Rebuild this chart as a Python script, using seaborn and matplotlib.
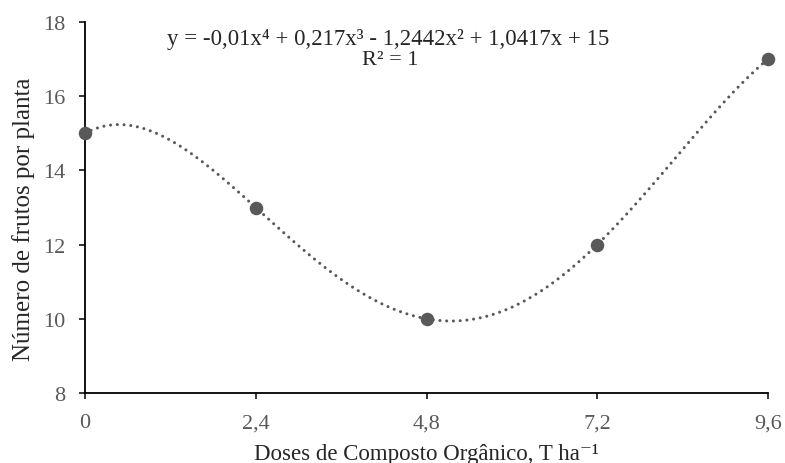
import numpy as np
import pandas as pd
from matplotlib import pyplot as plt
import seaborn as sns

# doses (T/ha) and fruit count per plant
doses = [0, 2.4, 4.8, 7.2, 9.6]
frutos = [15, 13, 10, 12, 17]
x_ticks = [0, 2.4, 4.8, 7.2, 9.6]
x_tick_labels = ["0", "2,4", "4,8", "7,2", "9,6"]
y_ticks = [8, 10, 12, 14, 16, 18]

EQUATION = "y = -0,01x\u2074 + 0,217x\u00b3 - 1,2442x\u00b2 + 1,0417x + 15"
R2_TEXT = "R\u00b2 = 1"
GRAY = "#595959"


def main():
    data = pd.DataFrame({"dose": doses, "frutos": frutos})

    sns.set_style("ticks")
    plt.rcParams["font.family"] = ["Liberation Serif", "DejaVu Serif"]

    fig = plt.figure(figsize=(7.85, 4.64), dpi=100)
    ax = fig.add_axes([85 / 785, 1 - 394 / 464, (768 - 85) / 785, (394 - 23) / 464])

    # 4th order trendline, passes through all 5 points
    sns.regplot(data=data, x="dose", y="frutos", order=4, ci=None, scatter=False,
                truncate=True, ax=ax,
                line_kws=dict(color=GRAY, lw=2.2, linestyle=(0, (0.01, 2.2)),
                              dash_capstyle="round"))
    sns.scatterplot(data=data, x="dose", y="frutos", ax=ax, s=95, color=GRAY,
                    edgecolor=GRAY, linewidth=0, zorder=5, clip_on=False)

    ax.set_xlim(0, 9.6)
    ax.set_ylim(8, 18)
    ax.set_xticks(x_ticks)
    ax.set_xticklabels(x_tick_labels)
    ax.set_yticks(y_ticks)
    ax.tick_params(axis="both", labelsize=16, colors="black", labelcolor=GRAY,
                   length=4.5, width=1.1, direction="out")
    ax.tick_params(axis="x", pad=10)
    ax.tick_params(axis="y", pad=10)
    for side in ["top", "right"]:
        ax.spines[side].set_visible(False)
    for side in ["left", "bottom"]:
        ax.spines[side].set_linewidth(1.3)
        ax.spines[side].set_color("black")

    ax.set_xlabel("Doses de Composto Orgânico, T ha\u207b\u00b9", fontsize=16.5, color="#262626")
    ax.set_ylabel("Número de frutos por planta", fontsize=18, color="#262626")
    ax.xaxis.label.set_va("baseline")
    ax.xaxis.set_label_coords(0.5, (394 - 460) / 371)
    ax.yaxis.label.set_va("center")
    ax.yaxis.label.set_ha("center")
    ax.yaxis.set_label_coords((24 - 85) / 683, 0.47)

    fig.text(167 / 785, 1 - 45 / 464, EQUATION, fontsize=16.5, ha="left", va="baseline")
    fig.text(362 / 785, 1 - 65 / 464, R2_TEXT, fontsize=16, ha="left", va="baseline")

    plt.savefig("out.png", dpi=100)


if __name__ == "__main__":
    main()
